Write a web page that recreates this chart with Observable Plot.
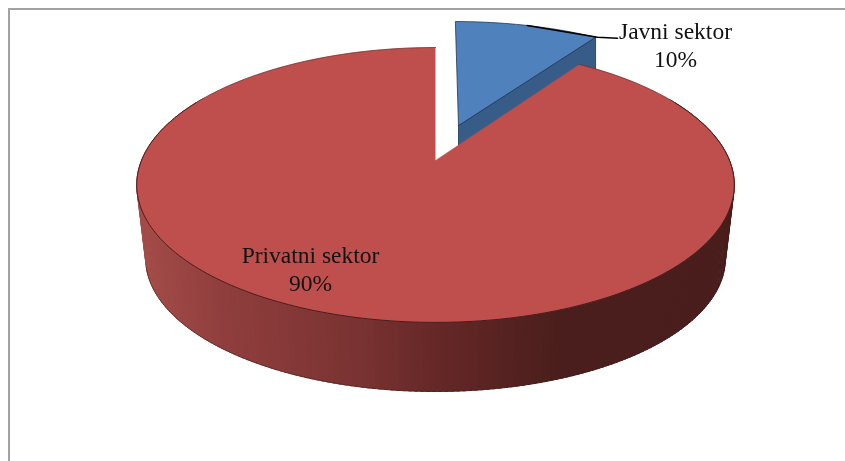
<!DOCTYPE html>
<html><head><meta charset="utf-8">
<script src="https://cdn.jsdelivr.net/npm/d3@7"></script>
<script src="https://cdn.jsdelivr.net/npm/@observablehq/plot@0.6"></script>
<style>html,body{margin:0;padding:0;background:#fff}svg{display:block;filter:blur(.45px)}</style>
</head><body>
<script>
// Chart values: printed labels, and the wedge sizes as measured in the picture
const sectors = ["Privatni sektor", "Javni sektor"];
const shareLabels = ["90%", "10%"];
const wedgeShares = [90.5, 9.5];
// Colours
const topRed = "#bf4f4c", topBlue = "#4f81bd", sideBlue = "#375c88", edgeBlue = "#1d3655";
const sideStops = [140, 220, 353, 435, 560];
const sideColors = ["#a34c49", "#8f3e3d", "#7a3332", "#652827", "#4a1e1c"];

// Layout of the 3D disc (perspective-projected circle)
const W = 845, H = 461, cx = 435, persp = 0.178;
const rad = d => d * Math.PI / 180;
const discTop = t => {
  const u = Math.sin(t), v = Math.cos(t), k = 1 + persp * v;
  return {x: cx + 294 * u / k, y: (160 - 104.6 * v) / k};
};
const discBottom = t => {
  const p = discTop(t);
  return {x: cx + (p.x - cx) * 0.97, y: 258 + (p.y - 184.4) * 0.967};
};
const bluePart = p => ({x: 458 + 0.97 * (p.x - cx) + 0.0276 * (p.y - 160), y: 125 + 0.92 * (p.y - 160)});

const blueEnd = wedgeShares[1] / 100 * 360;
const arc = (a, b, f, n = 120) => d3.range(n + 1).map(i => f(rad(a + (b - a) * i / n)));
const redApex = {x: cx, y: 160};
const redFace = [redApex, ...arc(blueEnd, 360, discTop, 240)];
const blueArc = arc(0, blueEnd, t => bluePart(discTop(t)), 40);
const blueApex = bluePart(redApex);
const blueFace = [blueApex, ...blueArc, blueApex];
const depthB = 62;
const last = blueArc[blueArc.length - 1];
const blueSide = [blueApex, last, {x: last.x, y: last.y + depthB}, {x: blueApex.x, y: blueApex.y + depthB}, blueApex];

// Side wall of the red slice: narrow strips coloured by horizontal position
const shade = d3.scaleLinear().domain(sideStops).range(sideColors).clamp(true);
const strips = [];
d3.range(60, 300, 1).forEach((a, i) => {
  const p0 = discTop(rad(a)), p1 = discTop(rad(a + 1.5)), q1 = discBottom(rad(a + 1.5)), q0 = discBottom(rad(a));
  const c = shade((p0.x + p1.x) / 2);
  [p0, p1, q1, q0].forEach(p => strips.push({x: p.x, y: p.y, i, c}));
});
const frontArc = arc(62, 298, discTop, 200);
const bottomArc = arc(104, 256, discBottom, 200);
const upperArc = arc(blueEnd, 62, discTop, 40);
const upperArc2 = arc(298, 360, discTop, 40);

// Leader from the middle of the blue arc to the label
const mid = bluePart(discTop(rad(blueEnd / 2)));
const leader = [mid, {x: last.x + 2, y: last.y}, {x: 617, y: last.y + 1}];

const labels = [
  {t: sectors[1], x: 675, y: 38},
  {t: shareLabels[1], x: 675, y: 66},
  {t: sectors[0], x: 310, y: 262},
  {t: shareLabels[0], x: 310, y: 290}
];

const xy = {x: "x", y: "y"};
document.body.append(Plot.plot({
  width: W, height: H, margin: 0,
  x: {domain: [0, W], range: [0, W], axis: null},
  y: {domain: [0, H], range: [0, H], axis: null},
  marks: [
    Plot.ruleX([8.5], {y1: 8, y2: H, stroke: "#a3a3a3", strokeWidth: 2}),
    Plot.ruleY([8.5], {x1: 8, x2: W, stroke: "#a3a3a3", strokeWidth: 2}),
    Plot.line(blueSide, {...xy, fill: sideBlue, stroke: edgeBlue, strokeWidth: 0.8}),
    Plot.line(blueFace, {...xy, fill: topBlue, stroke: edgeBlue, strokeWidth: 0.8}),
    Plot.line(strips, {...xy, z: "i", fill: "c", stroke: "c", strokeWidth: 0.8}),
    Plot.line(bottomArc, {...xy, stroke: "#3a1817", strokeWidth: 0.5}),
    Plot.line(redFace, {...xy, fill: topRed, stroke: topRed, strokeWidth: 0.5}),
    Plot.line(frontArc, {...xy, stroke: "#2a1110", strokeWidth: 0.8}),
    Plot.line(upperArc, {...xy, stroke: "#5a2523", strokeWidth: 0.6}),
    Plot.line(upperArc2, {...xy, stroke: "#5a2523", strokeWidth: 0.6}),
    Plot.line(leader, {...xy, stroke: "#000", strokeWidth: 1.6}),
    Plot.text(labels, {x: "x", y: "y", text: "t", fontFamily: "Liberation Serif", fontSize: 23.5, fill: "#111", textAnchor: "middle", lineAnchor: "bottom", dy: 0})
  ]
}));
</script>
</body></html>
